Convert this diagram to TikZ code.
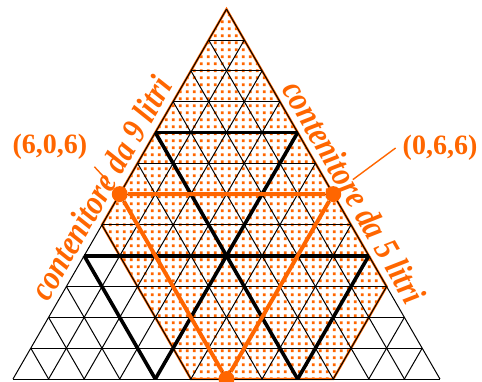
\documentclass[tikz,border=0pt]{standalone}
\usepackage{fontspec}
\usepackage{graphicx}
\setmainfont{Liberation Serif}
\usetikzlibrary{positioning,patterns.meta}
\definecolor{jugorange}{RGB}{255,102,0}

\tikzdeclarepattern{
  name=jugdots,
  type=uncolored,
  bottom left={(0pt,0pt)},
  top right={(3.35pt,3.35pt)},
  tile size={(3.35pt,3.35pt)},
  code={\fill (1pt,1pt) rectangle (2.4pt,2.4pt);}
}

\newcommand{\narrowtext}[1]{\scalebox{0.85}[1]{#1}}

\begin{document}
\begin{tikzpicture}[
    x=0.5pt, y=0.5pt,
    gridline/.style={draw=black, line width=0.5pt},
    boldline/.style={draw=black, line width=1.8pt},
    pathline/.style={draw=jugorange, line width=2pt},
    state/.style={circle, fill=jugorange, minimum size=8pt, inner sep=0pt},
    coord/.style={text=jugorange, font=\bfseries\fontsize{14}{16}\selectfont},
    axislabel/.style={text=jugorange, font=\bfseries\itshape\fontsize{17.5}{19}\selectfont, sloped, above},
    leader/.style={draw=jugorange, line width=0.7pt}
]
    \useasboundingbox (0,0) rectangle (482,381);

    % Triangular grid
    \begin{scope}[shift={(13,2)}, x={(17.79pt,0pt)}, y={(8.896pt,15.408pt)}]
        \coordinate (L) at (0,0);
        \coordinate (R) at (12,0);
        \coordinate (T) at (0,12);

        % Admissible states
        \fill[pattern=jugdots, pattern color=jugorange]
            (0,12) -- (0,5) -- (5,0) -- (9,0) -- (9,3) -- cycle;
        \draw[jugorange, line width=1.2pt]
            (0,12) -- (0,5) -- (5,0) -- (9,0) -- (9,3) -- cycle;

        \foreach \k in {0,...,12} {
            \draw[gridline] (0,\k) -- (12-\k,\k);
            \draw[gridline] (\k,0) -- (\k,12-\k);
            \draw[gridline] (\k,0) -- (0,\k);
        }

        % Blocks of four
        \draw[boldline] (0,8) -- (4,8) (0,4) -- (8,4);
        \draw[boldline] (4,0) -- (4,8) (8,0) -- (8,4);
        \draw[boldline] (8,0) -- (0,8) (4,0) -- (0,4);

        % States
        \node[state] (s606) at (0,6) {};
        \node[state] (s066) at (6,6) {};
        \node[state] (s660) at (6,0) {};
    \end{scope}

    \draw[pathline] (s606) -- (s066) -- (s660) -- (s606);

    % Labels
    \node[coord] (lab606) at (50,234) {(6,0,6)};
    \node[coord] (lab066) at (440,233) {(0,6,6)};
    \draw[leader, shorten >=3pt] (lab606.south east) -- (s606);
    \draw[leader, shorten >=8pt] (lab066.west) -- (s066);

    \path (L) -- node[axislabel, pos=0.49] (cap9) {\narrowtext{contenitore da 9 litri}} (T);
    \path (T) -- node[axislabel, pos=0.52] (cap5) {\narrowtext{contenitore da 5 litri}} (R);
\end{tikzpicture}
\end{document}
